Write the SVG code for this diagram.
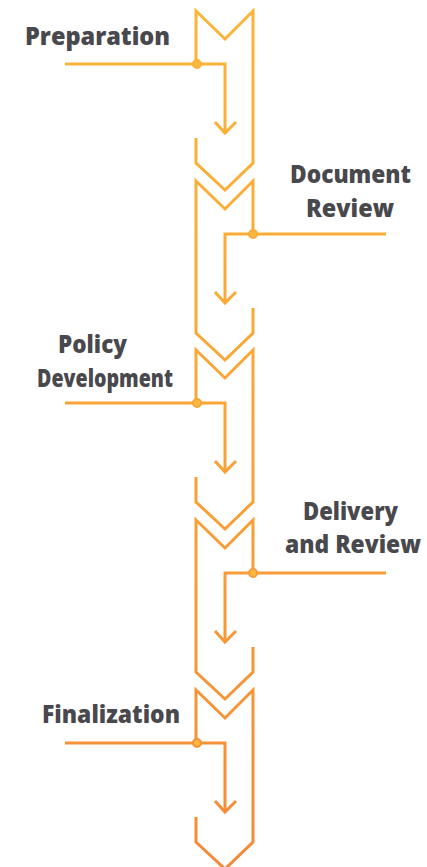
<svg xmlns="http://www.w3.org/2000/svg" width="427" height="867" viewBox="0 0 427 867">
<defs>
<linearGradient id="g" gradientUnits="userSpaceOnUse" x1="0" y1="0" x2="0" y2="867">
<stop offset="0" stop-color="#FBB537"/>
<stop offset="0.5" stop-color="#F8A436"/>
<stop offset="1" stop-color="#F48A38"/>
</linearGradient>
<style>
.s{fill:none;stroke:url(#g);stroke-width:3;stroke-linejoin:miter;stroke-linecap:butt}
.d{fill:#F9B83F;stroke:url(#g);stroke-width:2}
.t{font-family:"Open Sans",Roboto,"Liberation Sans",sans-serif;font-weight:800;font-size:24px;fill:#48484D;text-anchor:middle}
</style>
</defs>
<rect width="427" height="867" fill="#ffffff"/>
<g id="connectors">
<path class="s" d="M196,64 H225 V133 M215,122 L225,133 L236,122"/>
<path class="s" d="M253,234 H225 V303 M215,292 L225,303 L236,292"/>
<path class="s" d="M196,403 H225 V472 M215,461 L225,472 L236,461"/>
<path class="s" d="M253,573 H225 V642 M215,631 L225,642 L236,631"/>
<path class="s" d="M196,743 H225 V812 M215,801 L225,812 L236,801"/>
</g>
<g id="preparation">
<path class="s" d="M196,64 L196,11 L225,39 L253,11 L253,163 L225,190 L196,163 L196,138"/>
<path class="s" d="M65,64 H196"/>
<circle class="d" cx="197" cy="64" r="4"/>
<text class="t" x="97.5" y="45" textLength="145" lengthAdjust="spacingAndGlyphs">Preparation</text>
</g>
<g id="document-review">
<path class="s" d="M253,234 L253,181 L225,209 L196,181 L196,333 L225,360 L253,333 L253,308"/>
<path class="s" d="M253,234 H386"/>
<circle class="d" cx="253" cy="234" r="4"/>
<text class="t" x="350.5" y="183" textLength="121" lengthAdjust="spacingAndGlyphs">Document</text>
<text class="t" x="350" y="217" textLength="88" lengthAdjust="spacingAndGlyphs">Review</text>
</g>
<g id="policy-development">
<path class="s" d="M196,403 L196,350 L225,378 L253,350 L253,502 L225,529 L196,502 L196,477"/>
<path class="s" d="M65,403 H196"/>
<circle class="d" cx="197" cy="403" r="4"/>
<text class="t" x="92.5" y="353" textLength="69" lengthAdjust="spacingAndGlyphs">Policy</text>
<text class="t" x="105" y="387" textLength="136" lengthAdjust="spacingAndGlyphs">Development</text>
</g>
<g id="delivery-review">
<path class="s" d="M253,573 L253,520 L225,548 L196,520 L196,672 L225,699 L253,672 L253,647"/>
<path class="s" d="M253,573 H386"/>
<circle class="d" cx="253" cy="573" r="4"/>
<text class="t" x="350.5" y="520" textLength="95" lengthAdjust="spacingAndGlyphs">Delivery</text>
<text class="t" x="353" y="553" textLength="136" lengthAdjust="spacingAndGlyphs">and Review</text>
</g>
<g id="finalization">
<path class="s" d="M196,743 L196,690 L225,718 L253,690 L253,842 L225,869 L196,842 L196,817"/>
<path class="s" d="M65,743 H196"/>
<circle class="d" cx="197" cy="743" r="4"/>
<text class="t" x="111" y="723" textLength="138" lengthAdjust="spacingAndGlyphs">Finalization</text>
</g>
</svg>
